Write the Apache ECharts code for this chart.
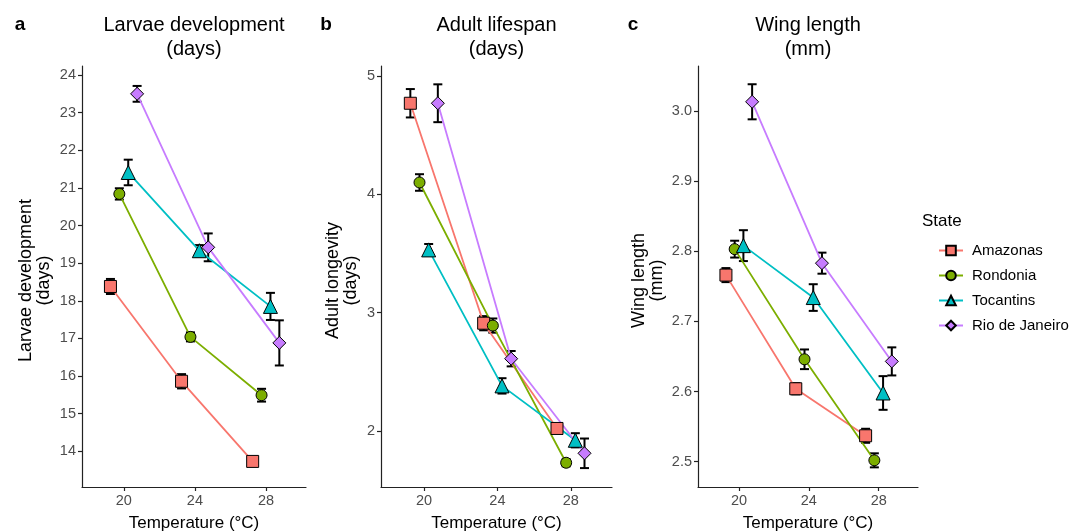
<!DOCTYPE html>
<html>
<head>
<meta charset="utf-8">
<title>Temperature effects by state</title>
<script src="https://cdn.jsdelivr.net/npm/echarts@6/dist/echarts.min.js"></script>
<style>
  html, body { margin: 0; padding: 0; background: #fff; }
  #chart { width: 1079px; height: 532px; }
</style>
</head>
<body>
<div id="chart"></div>
<script>
// Rearing temperatures (°C) and the four states
const temperatures = [20, 24, 28];
const states = ['Amazonas', 'Rondonia', 'Tocantins', 'Rio de Janeiro'];

// a: larvae development (days), mean and standard error per state
const larvaeMean = [
  [18.38, 15.86, 13.73],
  [20.84, 17.04, 15.49],
  [21.41, 19.33, 17.85],
  [23.50, 19.42, 16.88]
];
const larvaeSE = [
  [0.20, 0.19, 0.10],
  [0.15, 0.12, 0.17],
  [0.34, 0.15, 0.36],
  [0.21, 0.37, 0.60]
];

// b: adult lifespan (days)
const lifespanMean = [
  [4.77, 2.91, 2.02],
  [4.10, 2.89, 1.73],
  [3.53, 2.38, 1.92],
  [4.77, 2.61, 1.81]
];
const lifespanSE = [
  [0.12, 0.06, 0.02],
  [0.07, 0.06, 0.03],
  [0.05, 0.065, 0.06],
  [0.16, 0.065, 0.125]
];

// c: wing length (mm)
const wingMean = [
  [2.766, 2.604, 2.537],
  [2.803, 2.646, 2.502],
  [2.808, 2.734, 2.598],
  [3.013, 2.783, 2.643]
];
const wingSE = [
  [0.010, 0.008, 0.010],
  [0.012, 0.014, 0.010],
  [0.022, 0.019, 0.024],
  [0.025, 0.015, 0.020]
];

// Tick labels
const tempTicks = [20, 24, 28];
const larvaeTicks = [14, 15, 16, 17, 18, 19, 20, 21, 22, 23, 24];
const lifespanTicks = [2, 3, 4, 5];
const wingTicks = [2.5, 2.6, 2.7, 2.8, 2.9, 3.0];

// Styling
const colors = ['#F8766D', '#7CAE00', '#00BFC4', '#C77CFF'];
const symbols = ['rect', 'circle', 'triangle', 'diamond'];
const symbolSizes = [12, 11, 14, 13];
const dodge = [-0.75, -0.25, 0.25, 0.75];   // horizontal offset so groups don't overlap

const FONT = '"Liberation Sans", Arial, sans-serif';
const AXIS_COLOR = '#222';
const TICK_TEXT = '#4D4D4D';

const panels = [
  { mean: larvaeMean, se: larvaeSE, ticks: larvaeTicks, min: 13.05, max: 24.24, dec: 0,
    grid: { left: 82, top: 66, width: 224, height: 421 },
    letter: 'a', letterX: 20, title: 'Larvae development\n(days)', yTitle: 'Larvae development\n(days)', yTitleX: 35 },
  { mean: lifespanMean, se: lifespanSE, ticks: lifespanTicks, min: 1.525, max: 5.085, dec: 0,
    grid: { left: 381, top: 66, width: 231, height: 421 },
    letter: 'b', letterX: 326, title: 'Adult lifespan\n(days)', yTitle: 'Adult longevity\n(days)', yTitleX: 342 },
  { mean: wingMean, se: wingSE, ticks: wingTicks, min: 2.464, max: 3.064, dec: 1,
    grid: { left: 698, top: 66, width: 220, height: 421 },
    letter: 'c', letterX: 633, title: 'Wing length\n(mm)', yTitle: 'Wing length\n(mm)', yTitleX: 648 }
];

function renderErrorBar(params, api) {
  const x = api.value(0);
  const lo = api.coord([x, api.value(1)]);
  const hi = api.coord([x, api.value(2)]);
  const half = 4.5;
  const style = { stroke: '#000', lineWidth: 2, fill: null };
  return {
    type: 'group',
    children: [
      { type: 'line', shape: { x1: lo[0], y1: lo[1], x2: hi[0], y2: hi[1] }, style: style },
      { type: 'line', shape: { x1: lo[0] - half, y1: lo[1], x2: lo[0] + half, y2: lo[1] }, style: style },
      { type: 'line', shape: { x1: hi[0] - half, y1: hi[1], x2: hi[0] + half, y2: hi[1] }, style: style }
    ]
  };
}

const grids = [], xAxes = [], yAxes = [], series = [], graphics = [];

panels.forEach(function (p, pi) {
  grids.push(p.grid);
  xAxes.push({
    type: 'value', gridIndex: pi, min: 17.65, max: 30.25,
    splitLine: { show: false },
    axisLine: { show: true, onZero: false, lineStyle: { color: AXIS_COLOR, width: 1.2 } },
    axisTick: { show: true, length: 4, customValues: tempTicks, lineStyle: { color: AXIS_COLOR, width: 1.2 } },
    axisLabel: { customValues: tempTicks, color: TICK_TEXT, fontSize: 14.5, fontFamily: FONT, margin: 6 }
  });
  yAxes.push({
    type: 'value', gridIndex: pi, min: p.min, max: p.max,
    splitLine: { show: false },
    axisLine: { show: true, onZero: false, lineStyle: { color: AXIS_COLOR, width: 1.2 } },
    axisTick: { show: true, length: 4, customValues: p.ticks, lineStyle: { color: AXIS_COLOR, width: 1.2 } },
    axisLabel: {
      customValues: p.ticks, color: TICK_TEXT, fontSize: 14.5, fontFamily: FONT, margin: 6,
      formatter: function (v) { return Number(v).toFixed(p.dec); }
    }
  });

  states.forEach(function (s, si) {
    const pts = temperatures.map(function (t, ti) { return [t + dodge[si], p.mean[si][ti]]; });
    const bars = temperatures.map(function (t, ti) {
      return [t + dodge[si], p.mean[si][ti] - p.se[si][ti], p.mean[si][ti] + p.se[si][ti]];
    });
    series.push({
      type: 'custom', name: 'se ' + s + ' ' + p.letter,
      xAxisIndex: pi, yAxisIndex: pi, z: 2,
      renderItem: renderErrorBar,
      encode: { x: 0, y: [1, 2] },
      data: bars, silent: true
    });
    series.push({
      type: 'line', name: s, xAxisIndex: pi, yAxisIndex: pi, z: 3,
      data: pts,
      symbol: symbols[si], symbolSize: symbolSizes[si], showSymbol: true,
      lineStyle: { color: colors[si], width: 1.8 },
      itemStyle: { color: colors[si], borderColor: '#000', borderWidth: 1 },
      emphasis: { disabled: true }, silent: true
    });
  });

  const cx = p.grid.left + p.grid.width / 2;
  const cy = p.grid.top + p.grid.height / 2 + 4;
  // panel title
  graphics.push({
    type: 'text', x: cx, y: 37,
    style: { text: p.title, align: 'center', verticalAlign: 'middle', textAlign: 'center', textVerticalAlign: 'middle',
      fontSize: 20, lineHeight: 24, fontFamily: FONT, fill: '#000' }
  });
  // panel letter
  graphics.push({
    type: 'text', x: p.letterX, y: 25,
    style: { text: p.letter, align: 'center', verticalAlign: 'middle', textAlign: 'center', textVerticalAlign: 'middle',
      fontSize: 19, fontWeight: 'bold', fontFamily: FONT, fill: '#000' }
  });
  // y-axis title
  graphics.push({
    type: 'text', x: p.yTitleX, y: cy, rotation: Math.PI / 2,
    style: { text: p.yTitle, align: 'center', verticalAlign: 'middle', textAlign: 'center', textVerticalAlign: 'middle',
      fontSize: 18, lineHeight: 18, fontFamily: FONT, fill: '#000' }
  });
  // x-axis title
  graphics.push({
    type: 'text', x: cx, y: 523,
    style: { text: 'Temperature (°C)', align: 'center', verticalAlign: 'middle', textAlign: 'center', textVerticalAlign: 'middle',
      fontSize: 17, fontFamily: FONT, fill: '#000' }
  });
});

// legend heading
graphics.push({
  type: 'text', x: 922, y: 221,
  style: { text: 'State', align: 'left', verticalAlign: 'middle', textAlign: 'left', textVerticalAlign: 'middle',
    fontSize: 17, fontFamily: FONT, fill: '#000' }
});

const chart = echarts.init(document.getElementById('chart'), null, { renderer: 'canvas' });
chart.setOption({
  animation: false,
  backgroundColor: '#fff',
  grid: grids,
  xAxis: xAxes,
  yAxis: yAxes,
  series: series,
  graphic: graphics,
  legend: {
    data: states, orient: 'vertical', left: 933, top: 238,
    itemWidth: 24, itemHeight: 12, itemGap: 10,
    selectedMode: false,
    textStyle: { fontSize: 15, fontFamily: FONT, color: '#000', padding: [0, 0, 0, 4] }
  }
});
</script>
</body>
</html>
